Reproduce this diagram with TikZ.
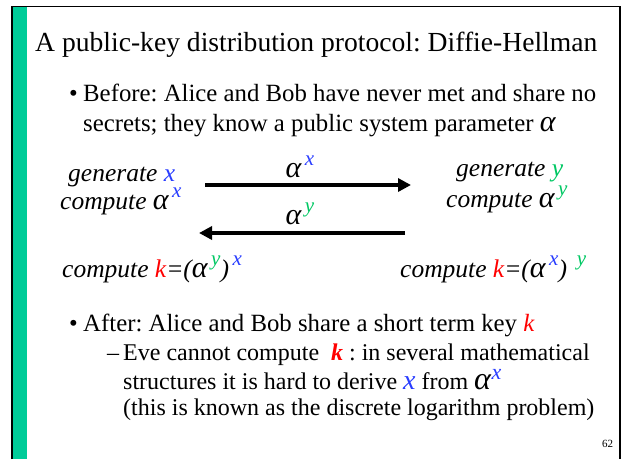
\documentclass[tikz,border=0pt]{standalone}
\usepackage{fontspec}
\setmainfont{Liberation Serif}
\usetikzlibrary{arrows.meta}
\definecolor{barg}{RGB}{0,204,153}
\definecolor{xblue}{RGB}{40,60,255}
\definecolor{ygreen}{RGB}{0,200,100}
\definecolor{kred}{RGB}{255,0,0}
\newcommand{\al}{{\fontsize{30}{30}\selectfont\textit{α}}}
\newcommand{\bx}{\textcolor{xblue}{\textit{x}}}
\newcommand{\gy}{\textcolor{ygreen}{\textit{y}}}
\newcommand{\rk}{\textcolor{kred}{\textit{k}}}
\newcommand{\supx}{\raisebox{0.45em}{\fontsize{21}{21}\selectfont\,\bx}}
\newcommand{\supy}{\raisebox{0.45em}{\fontsize{21}{21}\selectfont\,\gy}}
\frenchspacing
\begin{document}
\begin{tikzpicture}[x=1pt,y=-1pt,
  txt/.style={inner sep=0pt,anchor=base west,font=\fontsize{24.8}{28}\selectfont},
  txtb/.style={inner sep=0pt,anchor=base west,font=\fontsize{24}{28}\selectfont},
  ital/.style={inner sep=0pt,anchor=base west,font=\fontsize{25.5}{28}\selectfont\itshape},
  msg/.style={line width=3.6pt,-{Triangle[length=13pt,width=13pt]}}]
\useasboundingbox (0,0) rectangle (622,459);
\fill[white] (0,0) rectangle (622,459);
\fill[barg] (13,6) rectangle (26.5,459);
\draw[line width=2pt] (12,459) -- (12,6.5);
\draw[line width=1.2pt] (11,6.5) -- (620,6.5) -- (620,459);
% title
\node[txt,font=\fontsize{27.6}{30}\selectfont] (title) at (35,51) {A public-key distribution protocol: Diffie-Hellman};
\node[txt] (b1) at (69,101) {•};
\node[txt] (l1) at (83,101) {Before: Alice and Bob have never met and share no};
\node[txt] (l2) at (83,131) {secrets; they know a public system parameter {\fontsize{30}{30}\selectfont\textit{α}}};
% diagram
\node[ital] (genx) at (68,181) {generate \bx};
\node[ital] (compx) at (60,209) {compute \al\supx};
\node[ital] (geny) at (456,176) {generate \gy};
\node[ital] (compy) at (446,207) {compute \al\supy};
\coordinate (a1s) at (205,185);
\coordinate (a1e) at (411,185);
\coordinate (a2s) at (405,233);
\coordinate (a2e) at (199,233);
\draw[msg] (a1s) -- (a1e);
\draw[msg] (a2s) -- (a2e);
\node[ital,anchor=base] (mx) at (300,177) {\al\supx};
\node[ital,anchor=base] (my) at (300,224) {\al\supy};
\node[ital] (kl) at (62,277) {compute \rk=(\al\supy)\supx};
\node[ital] (kr) at (400,277) {compute \rk=(\al\supx) \supy};
% after
\node[txt] (b2) at (69,331) {•};
\node[txt] (l3) at (83,331) {After: Alice and Bob share a short term key \rk};
\node[txtb] (d1) at (107,360) {–};
\node[txtb] (l4) at (123,360) {Eve cannot compute \ \textcolor{kred}{\textbf{\textit{k}}} : in several mathematical};
\node[txtb] (l5) at (123,389) {structures it is hard to derive {\fontsize{28}{28}\selectfont\bx} from {\fontsize{32}{32}\selectfont\textit{α}\raisebox{0.3em}{\fontsize{22}{22}\selectfont\bx}}};
\node[txtb] (l6) at (123,415) {(this is known as the discrete logarithm problem)};
\node[txt,font=\fontsize{11}{12}\selectfont] (pg) at (602,447) {62};
\end{tikzpicture}
\end{document}
